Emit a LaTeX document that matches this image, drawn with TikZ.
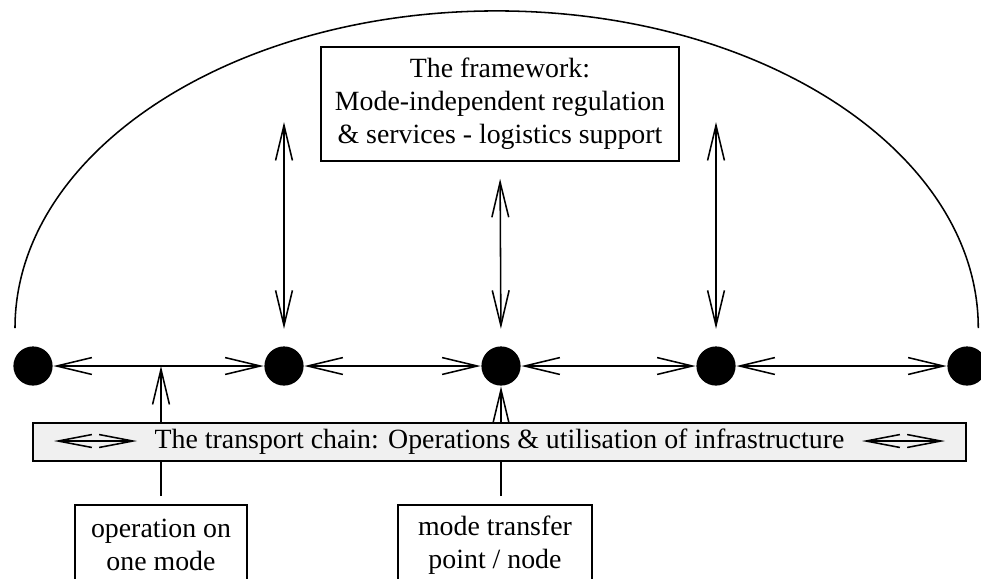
\documentclass[tikz,border=0pt]{standalone}
\usepackage{fontspec}
\setmainfont{Liberation Serif}
\usepackage{tikz}
\usetikzlibrary{arrows.meta}
\definecolor{chaingrey}{gray}{0.94}
\tikzstyle{hub} = [circle, fill=black, inner sep=0pt, minimum size=0.49cm]
\tikzstyle{textbox} = [rectangle, draw=black, line width=0.7pt, align=center, inner sep=0pt]
\tikzstyle{twoway} = [<->]
\tikzstyle{small tips} = [{Straight Barb[length=12pt,width=4.6pt]}-{Straight Barb[length=12pt,width=4.6pt]}]

\begin{document}
\begin{tikzpicture}[x=0.0125cm, y=-0.0125cm, line width=0.55pt, >={Straight Barb[length=12.5pt,width=6pt]}]
      \fontsize{9.9}{11.8}\selectfont
      \useasboundingbox (0,0) rectangle (981,578);
      \clip (0,0) rectangle (981,578);
      % nodes on the chain
      \node (d0) [hub] at (33,366) {};
      \node (d1) [hub] at (284,366) {};
      \node (d2) [hub] at (501,366) {};
      \node (d3) [hub] at (716,366) {};
      \node (d4) [hub] at (967,366) {};
      \node (fw) [textbox, minimum width=4.475cm, minimum height=1.425cm] at (500,104)
            {The framework:\\Mode-independent regulation\\\& services - logistics support};
      \node (op) [textbox, minimum width=2.15cm, minimum height=1cm] at (161,545) {operation on\\one mode};
      \node (mode) [textbox, minimum width=2.425cm, minimum height=1cm] at (495,545) {mode transfer\\point / node};
      \coordinate (f1) at (284,122);
      \coordinate (f3) at (716,122);
      % the arc round everything
      \draw (15,328) arc[start angle=180, end angle=0, x radius=6.01875cm, y radius=3.9625cm];
      % links along the chain
      \draw [twoway] (d0) -- (d1);
      \draw [twoway] (d1) -- (d2);
      \draw [twoway] (d2) -- (d3);
      \draw [twoway] (d3) -- (d4);
      % links to the framework
      \draw [twoway, shorten >=0.21cm] (f1) -- (d1.north);
      \draw [twoway, shorten <=0.21cm, shorten >=0.21cm] (fw.south) -- (d2.north);
      \draw [twoway, shorten >=0.21cm] (f3) -- (d3.north);
      % pointers from the labels
      \draw [->, shorten <=0.1cm] (op.north) -- (op.north |- d0.center);
      \draw [->, shorten <=0.1cm] (d2.south |- mode.north) -- (d2.south);
      % the chain box on top
      \node (tc) [textbox, fill=chaingrey, minimum width=11.66cm, minimum height=0.475cm] at (499.5,442)
            {The transport chain: Operations \& utilisation of infrastructure};
      \coordinate (l1) at (54,441);
      \coordinate (l2) at (137,441);
      \coordinate (r1) at (862,441);
      \coordinate (r2) at (945,441);
      \draw [small tips] (l1) -- (l2);
      \draw [small tips] (r1) -- (r2);
\end{tikzpicture}
\end{document}
